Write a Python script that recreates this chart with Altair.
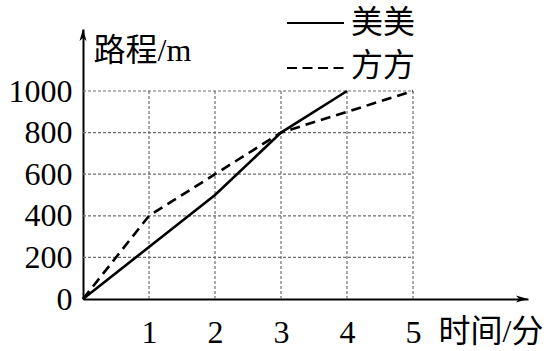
import altair as alt
import pandas as pd

# ---- data ----
meimei_t = [0, 1, 2, 3, 4]
meimei_d = [0, 250, 500, 800, 1000]
fangfang_t = [0, 1, 2, 3, 4, 5]
fangfang_d = [0, 400, 600, 800, 900, 1000]
x_ticks = [1, 2, 3, 4, 5]
y_ticks = [0, 200, 400, 600, 800, 1000]
series_names = ["美美", "方方"]

XMAX = 445 / 66.0
YMAX = 270 / 0.208

CJK = "Liberation Serif, Noto Sans CJK SC"
NUM = "Liberation Serif"


def xenc(field):
    return alt.X(field, type="quantitative",
                 scale=alt.Scale(domain=[0, XMAX], nice=False, zero=True),
                 axis=alt.Axis(values=x_ticks, title="时间/分", titleAngle=0,
                               titleX=355, titleY=32, titleAlign="left",
                               titleBaseline="middle", labelPadding=18,
                               format="d",
                               labelFlush=False, labelOverlap=False))


def yenc(field):
    return alt.Y(field, type="quantitative",
                 scale=alt.Scale(domain=[0, YMAX], nice=False, zero=True),
                 axis=alt.Axis(values=y_ticks, title="路程/m", titleAngle=0,
                               titleX=10, titleY=21, titleAlign="left",
                               titleBaseline="middle", labelPadding=11,
                               format="d",
                               labelFlush=False, labelOverlap=False))


vgrid = pd.DataFrame({"gx": x_ticks, "gy0": [0] * len(x_ticks),
                      "gy1": [max(y_ticks)] * len(x_ticks)})
hgrid = pd.DataFrame({"hy": y_ticks[1:], "hx0": [0] * (len(y_ticks) - 1),
                      "hx1": [max(x_ticks)] * (len(y_ticks) - 1)})
mm = pd.DataFrame({"t": meimei_t, "d": meimei_d})
ff = pd.DataFrame({"t": fangfang_t, "d": fangfang_d})
arrow_x = pd.DataFrame({"t": [XMAX], "d": [0]})
arrow_y = pd.DataFrame({"t": [0], "d": [YMAX]})

grid_style = dict(color="#6e6e6e", strokeWidth=1.2, strokeDash=[3, 2])

vg = alt.Chart(vgrid).mark_rule(**grid_style).encode(
    x=xenc("gx"), y=yenc("gy0"), y2="gy1")
hg = alt.Chart(hgrid).mark_rule(**grid_style).encode(
    y=yenc("hy"), x=xenc("hx0"), x2="hx1")

line_mm = alt.Chart(mm).mark_line(color="black", strokeWidth=2.6).encode(
    x=xenc("t"), y=yenc("d"))
line_ff = alt.Chart(ff).mark_line(color="black", strokeWidth=2.6,
                                  strokeDash=[10, 6]).encode(
    x=xenc("t"), y=yenc("d"))

arr_r = alt.Chart(arrow_x).mark_point(
    shape="M0,0L-2.4,-0.7L-1.8,0L-2.4,0.7Z", filled=True, size=100,
    color="black", opacity=1).encode(x=xenc("t"), y=yenc("d"))
arr_u = alt.Chart(arrow_y).mark_point(
    shape="M0,0L-0.7,2.4L0,1.8L0.7,2.4Z", filled=True, size=100,
    color="black", opacity=1).encode(x=xenc("t"), y=yenc("d"))

# ---- legend (decoration) ----
leg1 = alt.Chart(pd.DataFrame({"n": [series_names[0]]})).mark_rule(
    color="black", strokeWidth=2).encode(
    x=alt.value(204), x2=alt.value(261), y=alt.value(-6))
leg2 = alt.Chart(pd.DataFrame({"n": [series_names[1]]})).mark_rule(
    color="black", strokeWidth=2, strokeDash=[10, 5.5]).encode(
    x=alt.value(204), x2=alt.value(261), y=alt.value(39))
legt1 = alt.Chart(pd.DataFrame({"n": [series_names[0]]})).mark_text(
    font=CJK, fontSize=32, align="left", baseline="middle", color="black").encode(
    text="n:N", x=alt.value(268), y=alt.value(-6))
legt2 = alt.Chart(pd.DataFrame({"n": [series_names[1]]})).mark_text(
    font=CJK, fontSize=32, align="left", baseline="middle", color="black").encode(
    text="n:N", x=alt.value(268), y=alt.value(37))

chart = alt.layer(vg, hg, line_ff, line_mm, arr_r, arr_u,
                  leg1, leg2, legt1, legt2).properties(
    width=445, height=270,
    autosize=alt.AutoSizeParams(type="none"),
    padding={"left": 83, "top": 29, "right": 28, "bottom": 52},
).configure_view(stroke=None).configure_axis(
    domain=True, domainColor="black", domainWidth=2, ticks=False, grid=False,
    labelFont=NUM, labelFontSize=32, labelColor="black",
    titleFont=CJK, titleFontSize=32, titleFontWeight="normal", titleColor="black",
)

chart.save("out.html", embed_options={"renderer": "svg", "actions": False})
